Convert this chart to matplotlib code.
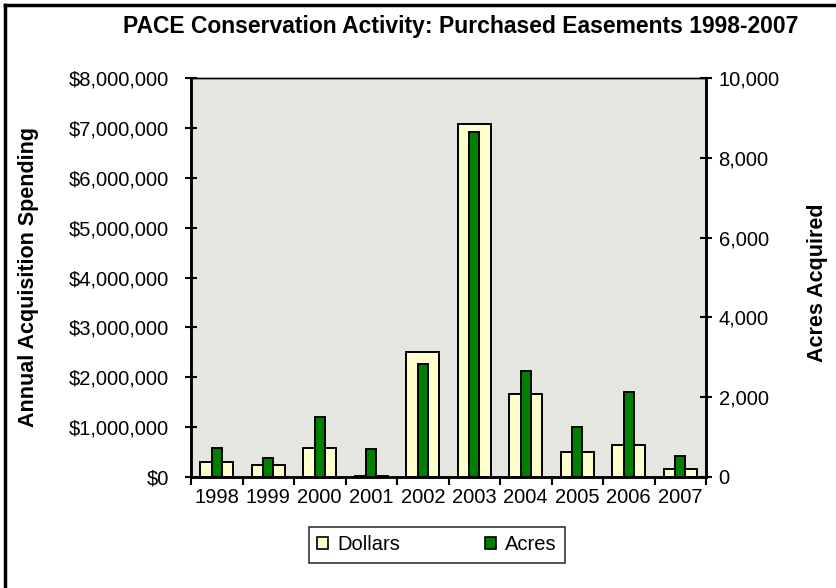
import numpy as np
import matplotlib
matplotlib.use('Agg')
import matplotlib.pyplot as plt
from matplotlib.patches import Patch
from matplotlib.lines import Line2D
from matplotlib.ticker import FuncFormatter, MultipleLocator

plt.rcParams['font.family'] = ['Liberation Sans', 'DejaVu Sans']

years = ['1998', '1999', '2000', '2001', '2002', '2003', '2004', '2005', '2006', '2007']
dollars = [300000, 235000, 580000, 30000, 2510000, 7080000, 1670000, 500000, 650000, 155000]
acres = [730, 485, 1505, 690, 2820, 8640, 2660, 1255, 2135, 530]

W, H = 836, 588
fig = plt.figure(figsize=(W / 100, H / 100), dpi=100)
fig.patch.set_facecolor('white')

# plot area, placed like the Excel original
ax = fig.add_axes([191 / W, 1 - 477 / H, (706 - 191) / W, (477 - 78) / H])
ax.set_facecolor('#e6e6e0')
ax2 = ax.twinx()

x = np.arange(len(years))
ax.bar(x, dollars, width=0.65, color='#ffffcc', edgecolor='black', linewidth=1.4, zorder=2)
ax2.bar(x, acres, width=0.2, color='#008000', edgecolor='black', linewidth=1.4, zorder=3)

ax.set_xlim(-0.5, len(years) - 0.5)
ax.set_ylim(0, 8000000)
ax2.set_ylim(0, 10000)
ax.yaxis.set_major_locator(MultipleLocator(1000000))
ax2.yaxis.set_major_locator(MultipleLocator(2000))
ax.yaxis.set_major_formatter(FuncFormatter(lambda v, p: f'${v:,.0f}'))
ax2.yaxis.set_major_formatter(FuncFormatter(lambda v, p: f'{v:,.0f}'))

# ticks at category boundaries, labels centered under bars
ax.set_xticks(np.arange(-0.5, len(years), 1))
ax.set_xticklabels([])
ax.set_xticks(x, minor=True)
ax.set_xticklabels(years, minor=True)
ax.tick_params(axis='x', which='major', direction='out', length=6, width=1.5)
ax.tick_params(axis='x', which='minor', length=0, labelsize=14.5, pad=8)
ax.tick_params(axis='y', direction='inout', length=8, width=1.5, labelsize=14.5, pad=12)
ax2.tick_params(axis='y', direction='inout', length=8, width=1.5, labelsize=14.5, pad=5)

for a in (ax, ax2):
    for side in ('left', 'right', 'bottom'):
        a.spines[side].set_linewidth(1.8)
    a.spines['top'].set_linewidth(1.0)

fig.text(29 / W, 1 - 277 / H, 'Annual Acquisition Spending', rotation=90,
         ha='center', va='center', fontsize=15.5, fontweight='bold')
fig.text(818 / W, 1 - 283 / H, 'Acres Acquired', rotation=90,
         ha='center', va='center', fontsize=15.5, fontweight='bold')

fig.text(461 / W, 1 - 26 / H, 'PACE Conservation Activity: Purchased Easements 1998-2007',
         ha='center', va='center', fontsize=16.5, fontweight='bold')

handles = [Patch(facecolor='#ffffcc', edgecolor='black', linewidth=1.2, label='Dollars'),
           Patch(facecolor='#008000', edgecolor='black', linewidth=1.2, label='Acres')]
leg = fig.legend(handles=handles, loc='center', bbox_to_anchor=(437 / W, 1 - 545 / H),
                 ncol=2, fontsize=14.5, frameon=True, fancybox=False, handlelength=0.55,
                 handleheight=0.55, columnspacing=4.2, handletextpad=0.45, borderpad=0.4,
                 borderaxespad=0)
leg.get_frame().set_edgecolor('black')
leg.get_frame().set_linewidth(1.2)

# outer chart border (left and top edges visible)
fig.add_artist(Line2D([5 / W, 5 / W], [0, 1 - 5 / H], transform=fig.transFigure, color='black', lw=2.5))
fig.add_artist(Line2D([5 / W, 1], [1 - 5 / H, 1 - 5 / H], transform=fig.transFigure, color='black', lw=2.5))

fig.savefig('out.png', dpi=100, facecolor=fig.get_facecolor())
